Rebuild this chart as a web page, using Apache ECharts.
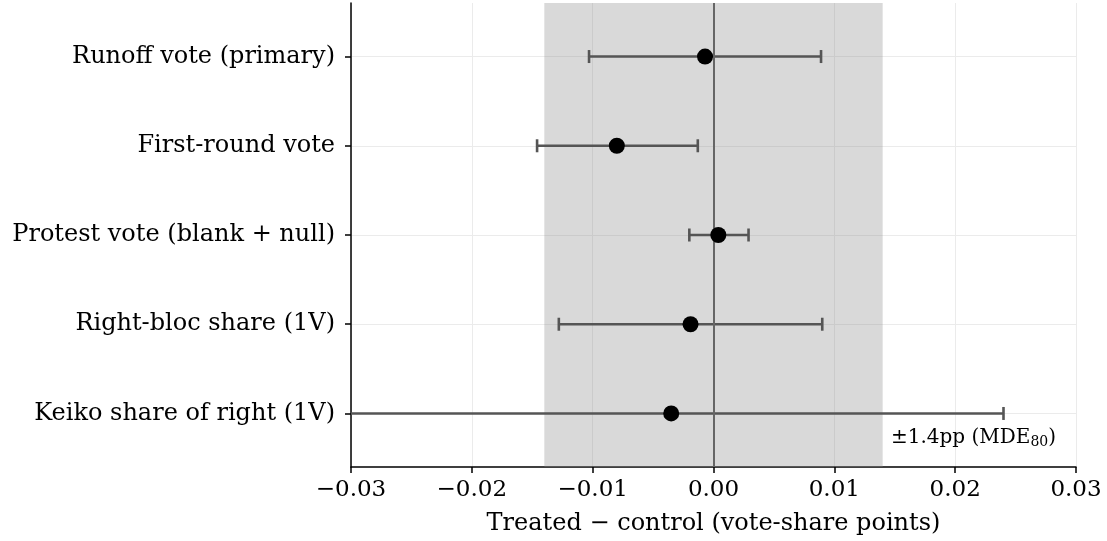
<!DOCTYPE html>
<html><head><meta charset="utf-8">
<script src="https://cdn.jsdelivr.net/npm/echarts@6/dist/echarts.min.js"></script>
<style>html,body{margin:0;padding:0;background:#fff}#c{width:1107px;height:541px}</style>
</head><body><div id="c"></div>
<script>
const categories = ['Runoff vote (primary)', 'First-round vote', 'Protest vote (blank + null)', 'Right-bloc share (1V)', 'Keiko share of right (1V)'];
const estimates = [-0.0007, -0.0080, 0.0004, -0.0019, -0.0035];
const ciLow = [-0.0103, -0.0146, -0.0020, -0.0128, -0.0309];
const ciHigh = [0.0089, -0.0013, 0.0029, 0.0090, 0.0240];
const mde = 0.014;
const xTicks = [-0.03, -0.02, -0.01, 0.00, 0.01, 0.02, 0.03];
const catIdx = categories.map((c, i) => i);

const FONT = 'DejaVu Serif';
const chart = echarts.init(document.getElementById('c'), null, {renderer: 'canvas'});
const fmt = v => (v < -1e-9 ? '\u2212' : '') + Math.abs(v).toFixed(2);

chart.setOption({
  animation: false,
  grid: {left: 351, right: 31, top: 3, bottom: 74, containLabel: false},
  xAxis: {
    type: 'value', min: xTicks[0], max: xTicks[xTicks.length - 1], interval: 0.01,
    name: 'Treated \u2212 control (vote-share points)', nameLocation: 'middle', nameGap: 45,
    nameTextStyle: {fontFamily: FONT, fontSize: 24, color: '#000'},
    axisLine: {show: true, onZero: false, lineStyle: {color: '#000', width: 1.5}},
    axisTick: {show: true, length: 6, lineStyle: {color: '#000', width: 1.5}},
    axisLabel: {fontFamily: FONT, fontSize: 23, color: '#000', margin: 12, formatter: fmt},
    splitLine: {show: true, lineStyle: {color: '#ebebeb', width: 1}}
  },
  yAxis: {
    type: 'value', min: -0.6, max: 4.6, inverse: true,
    axisLine: {show: true, onZero: false, lineStyle: {color: '#000', width: 1.5}},
    axisTick: {show: true, length: 6, customValues: catIdx, lineStyle: {color: '#000', width: 1.5}},
    axisLabel: {fontFamily: FONT, fontSize: 24, color: '#000', margin: 16, customValues: catIdx,
      formatter: v => categories[Math.round(v)]},
    splitLine: {show: true, lineStyle: {color: '#ebebeb', width: 1}}
  },
  series: [
    {
      type: 'custom', clip: true, z: 3,
      data: catIdx.map(i => [i, ciLow[i], ciHigh[i]]),
      renderItem: (params, api) => {
        const y = api.value(0);
        const p1 = api.coord([api.value(1), y]);
        const p2 = api.coord([api.value(2), y]);
        const cap = 6.5;
        const st = {stroke: '#555555', lineWidth: 2.6};
        return {type: 'group', children: [
          {type: 'line', shape: {x1: p1[0], y1: p1[1], x2: p2[0], y2: p2[1]}, style: st},
          {type: 'line', shape: {x1: p1[0], y1: p1[1] - cap, x2: p1[0], y2: p1[1] + cap}, style: st},
          {type: 'line', shape: {x1: p2[0], y1: p2[1] - cap, x2: p2[0], y2: p2[1] + cap}, style: st}
        ]};
      },
      markArea: {
        silent: true,
        itemStyle: {color: 'rgba(140,140,140,0.33)'},
        data: [[{xAxis: -mde}, {xAxis: mde}]]
      },
      markLine: {
        silent: true, symbol: 'none', label: {show: false},
        lineStyle: {color: '#666666', width: 2, type: 'solid'},
        data: [{xAxis: 0}]
      }
    },
    {
      type: 'scatter', z: 5, symbol: 'circle', symbolSize: 16,
      itemStyle: {color: '#000', opacity: 1},
      data: catIdx.map(i => [estimates[i], i])
    }
  ],
  graphic: [{
    type: 'text', right: 51, top: 428, z: 10,
    style: {
      text: '{a|\u00b11.4pp (MDE}{s|80}{a|)}',
      rich: {
        a: {fontFamily: FONT, fontSize: 20, fill: '#000'},
        s: {fontFamily: FONT, fontSize: 14, fill: '#000', padding: [9, 0, 0, 0]}
      }
    }
  }]
});
</script></body></html>
